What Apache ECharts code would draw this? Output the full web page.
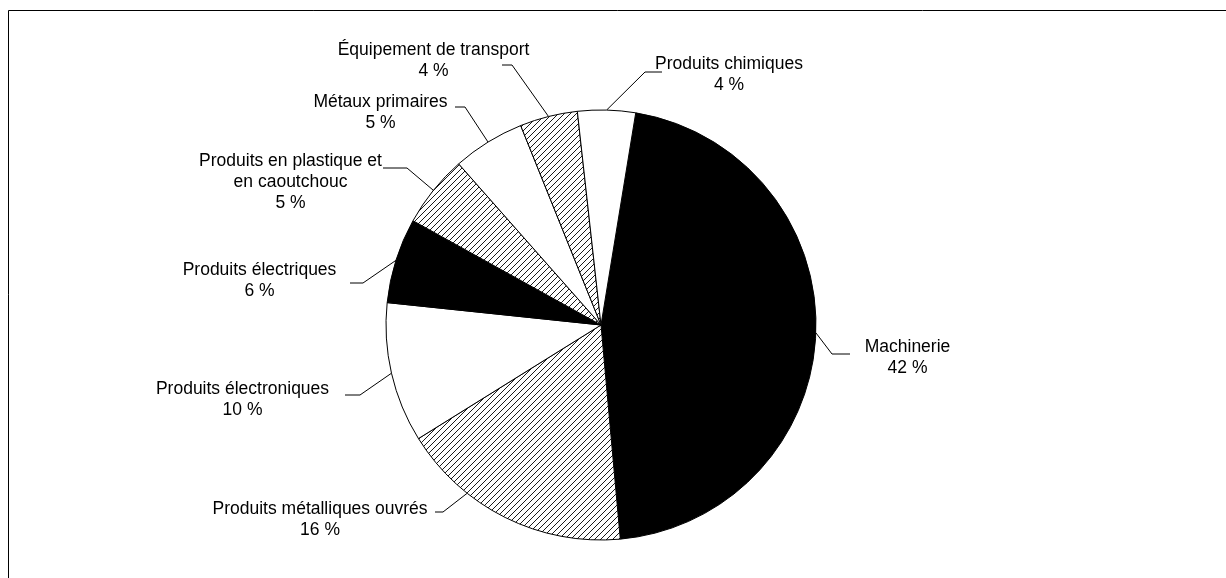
<!DOCTYPE html>
<html>
<head>
<meta charset="utf-8">
<script src="https://cdn.jsdelivr.net/npm/echarts@6/dist/echarts.min.js"></script>
<style>
  html, body { margin: 0; padding: 0; background: #fff; }
  #chart { width: 1226px; height: 578px; }
</style>
</head>
<body>
<div id="chart"></div>
<script>
// ---- Data (clockwise from Machinerie) ----
const CATEGORIES = [
  'Machinerie',
  'Produits métalliques ouvrés',
  'Produits électroniques',
  'Produits électriques',
  'Produits en plastique et\nen caoutchouc',
  'Métaux primaires',
  'Équipement de transport',
  'Produits chimiques'
];
const VALUES = [42.4, 16.2, 9.7, 5.9, 5.0, 5.0, 4.0, 4.0];
const FILLS = ['solid', 'hatch', 'white', 'solid', 'hatch', 'white', 'hatch', 'white'];

// ---- Layout (label positions, leader bends) ----
const CENTER = [601, 325];
const RADIUS = 215;
const START_ANGLE = 80.7;
const LABEL_LAYOUT = [
  { c: [907.5, 357.5], bend: [832, 354], end: [850, 354] },
  { c: [320, 520], bend: [443, 512], end: [435, 512], anchorDeg: 218.5 },
  { c: [242.5, 400], bend: [360, 395], end: [345, 395] },
  { c: [259.5, 281], bend: [363, 283], end: [350, 283] },
  { c: [290.5, 182], bend: [407, 168], end: [383, 168] },
  { c: [380.5, 112.5], bend: [465, 107], end: [455, 107] },
  { c: [433.5, 61], bend: [512, 65], end: [502, 65] },
  { c: [729, 75], bend: [645, 72], end: [662, 72] }
];

function makeHatch() {
  const s = 6;
  const cv = document.createElement('canvas');
  cv.width = s; cv.height = s;
  const ctx = cv.getContext('2d');
  ctx.fillStyle = '#fff';
  ctx.fillRect(0, 0, s, s);
  ctx.strokeStyle = '#000';
  ctx.lineWidth = 0.9;
  ctx.beginPath();
  ctx.moveTo(-1, s + 1); ctx.lineTo(s + 1, -1);
  ctx.moveTo(-1, 1); ctx.lineTo(1, -1);
  ctx.moveTo(s - 1, s + 1); ctx.lineTo(s + 1, s - 1);
  ctx.stroke();
  return cv;
}
const hatch = makeHatch();

const total = VALUES.reduce((a, b) => a + b, 0);
const midAngles = [];
(function () {
  let cum = 0;
  const base = 90 - START_ANGLE;
  VALUES.forEach(v => {
    midAngles.push(base + (cum + v / 2) / total * 360);
    cum += v;
  });
})();

function edgePoint(deg) {
  const r = deg * Math.PI / 180;
  return [CENTER[0] + RADIUS * Math.sin(r), CENTER[1] - RADIUS * Math.cos(r)];
}

const data = CATEGORIES.map((name, i) => {
  let color;
  if (FILLS[i] === 'solid') color = '#000';
  else if (FILLS[i] === 'white') color = '#fff';
  else color = { image: hatch, repeat: 'repeat' };
  return { name: name, value: VALUES[i], itemStyle: { color: color } };
});

const chart = echarts.init(document.getElementById('chart'), null, { renderer: 'canvas' });
chart.setOption({
  animation: false,
  backgroundColor: '#fff',
  graphic: [{
    type: 'rect',
    shape: { x: 8.5, y: 10.5, width: 1400, height: 800 },
    style: { fill: 'none', stroke: '#000', lineWidth: 1 },
    silent: true,
    z: -10
  }],
  series: [{
    type: 'pie',
    center: CENTER,
    radius: RADIUS,
    startAngle: START_ANGLE,
    clockwise: true,
    avoidLabelOverlap: false,
    data: data,
    itemStyle: { borderColor: '#000', borderWidth: 1 },
    emphasis: { disabled: true },
    label: {
      show: true,
      position: 'outside',
      fontFamily: '"Liberation Sans", Arial, sans-serif',
      fontSize: 17.5,
      lineHeight: 21,
      color: '#000',
      align: 'center',
      formatter: p => p.name + '\n' + Math.round(p.value) + ' %'
    },
    labelLine: {
      show: true,
      length: 20,
      length2: 15,
      lineStyle: { color: '#000', width: 1 }
    },
    labelLayout: function (params) {
      const L = LABEL_LAYOUT[params.dataIndex];
      const deg = L.anchorDeg != null ? L.anchorDeg : midAngles[params.dataIndex];
      return {
        x: L.c[0],
        y: L.c[1],
        align: 'center',
        verticalAlign: 'middle',
        labelLinePoints: [edgePoint(deg), L.bend, L.end]
      };
    }
  }]
});
</script>
</body>
</html>
